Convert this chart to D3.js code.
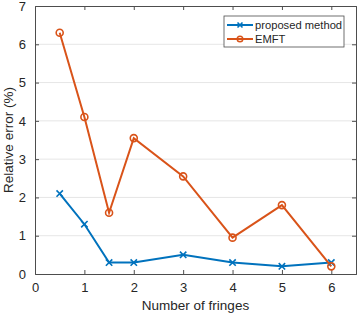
<!DOCTYPE html>
<html lang="en">
<head>
<meta charset="UTF-8" />
<title>fringes</title>
<style>
  body { margin: 0; background: #fff; }
  text { font-family: "Liberation Sans", Arial, sans-serif; fill: #262626; }
</style>
</head>
<body>
<svg width="358" height="315" id="mainsvg"></svg>
<script src="https://cdn.jsdelivr.net/npm/d3@7"></script>
<script>
const fringes = [0.5, 1, 1.5, 2, 3, 4, 5, 6]
const proposed = [2.1, 1.3, 0.3, 0.3, 0.5, 0.3, 0.2, 0.3]
const emft = [6.3, 4.1, 1.6, 3.55, 2.55, 0.95, 1.8, 0.2]
const xTicks = [0, 1, 2, 3, 4, 5, 6]
const yTicks = [0, 1, 2, 3, 4, 5, 6, 7]
const seriesNames = ["proposed method", "EMFT"]

const svg = d3.select("#mainsvg")
const margin = { left: 35, right: 2, top: 6, bottom: 41 }
const width = +svg.attr("width")
const height = +svg.attr("height")
const iw = width - margin.left - margin.right
const ih = height - margin.top - margin.bottom

const x = d3.scaleLinear().domain([0, 6.5]).range([margin.left, margin.left + iw])
const y = d3.scaleLinear().domain([0, 7]).range([margin.top + ih, margin.top])

// horizontal grid
svg.append("g")
  .selectAll("line")
  .data(yTicks.slice(1, -1))
  .join("line")
  .attr("x1", x(0)).attr("x2", x(6.5))
  .attr("y1", d => y(d)).attr("y2", d => y(d))
  .attr("stroke", "#e6e6e6").attr("stroke-width", 1)

// axes (ticks pointing inward)
const axisColor = "#262626"
const gBottom = svg.append("g").attr("transform", `translate(0,${y(0)})`)
  .call(d3.axisBottom(x).tickValues(xTicks).tickSize(-4).tickPadding(9).tickFormat(d3.format("d")))
const gTop = svg.append("g").attr("transform", `translate(0,${y(7)})`)
  .call(d3.axisTop(x).tickValues(xTicks).tickSize(-4).tickFormat(""))
const gLeft = svg.append("g").attr("transform", `translate(${x(0)},0)`)
  .call(d3.axisLeft(y).tickValues(yTicks).tickSize(-4).tickPadding(9).tickFormat(d3.format("d")))
const gRight = svg.append("g").attr("transform", `translate(${x(6.5)},0)`)
  .call(d3.axisRight(y).tickValues(yTicks).tickSize(-4).tickFormat(""))

;[gBottom, gTop, gLeft, gRight].forEach(g => {
  g.select(".domain").attr("stroke", "#4d4d4d")
  g.selectAll(".tick line").attr("stroke", "#4d4d4d")
  g.selectAll("text").attr("font-size", 13).attr("fill", axisColor)
    .attr("font-family", "Liberation Sans, Arial, sans-serif")
})
// remove tick marks at the edges overlapping the box
gBottom.selectAll(".tick").filter(d => d === 0).select("line").remove()
gTop.selectAll(".tick").filter(d => d === 0).select("line").remove()
gLeft.selectAll(".tick").filter(d => d === 0 || d === 7).select("line").remove()
gRight.selectAll(".tick").filter(d => d === 0 || d === 7).select("line").remove()

// axis labels
svg.append("text")
  .attr("x", x(3.25)).attr("y", 310)
  .attr("text-anchor", "middle").attr("font-size", 13.5)
  .text("Number of fringes")
svg.append("text")
  .attr("transform", `translate(13,${y(3.5)}) rotate(-90)`)
  .attr("text-anchor", "middle").attr("font-size", 13.5)
  .text("Relative error (%)")

const blue = "#0072BD"
const orange = "#D95319"
const line = d3.line().x(d => x(d[0])).y(d => y(d[1]))

const blueData = fringes.map((f, i) => [f, proposed[i]])
const orangeData = fringes.map((f, i) => [f, emft[i]])

svg.append("path").datum(blueData).attr("d", line)
  .attr("fill", "none").attr("stroke", blue).attr("stroke-width", 2)
svg.append("path").datum(orangeData).attr("d", line)
  .attr("fill", "none").attr("stroke", orange).attr("stroke-width", 2)

function cross(g, cx, cy, r, color) {
  g.append("path")
    .attr("d", `M${cx - r},${cy - r}L${cx + r},${cy + r}M${cx - r},${cy + r}L${cx + r},${cy - r}`)
    .attr("stroke", color).attr("stroke-width", 1.6).attr("fill", "none")
}

const marks = svg.append("g")
blueData.forEach(d => cross(marks, x(d[0]), y(d[1]), 3.2, blue))
marks.selectAll("circle")
  .data(orangeData)
  .join("circle")
  .attr("cx", d => x(d[0])).attr("cy", d => y(d[1]))
  .attr("r", 3.5)
  .attr("fill", "none").attr("stroke", orange).attr("stroke-width", 1.6)

// legend
const lg = svg.append("g").attr("transform", "translate(224,16)")
lg.append("rect").attr("width", 120).attr("height", 31)
  .attr("fill", "#fff").attr("stroke", "#4d4d4d").attr("stroke-width", 0.8)
const colors = [blue, orange]
seriesNames.forEach((name, i) => {
  const cy = 9 + i * 14
  lg.append("line").attr("x1", 3).attr("x2", 29).attr("y1", cy).attr("y2", cy)
    .attr("stroke", colors[i]).attr("stroke-width", 2)
  if (i === 0) cross(lg, 16, cy, 2.5, blue)
  else lg.append("circle").attr("cx", 16).attr("cy", cy).attr("r", 2.8)
    .attr("fill", "none").attr("stroke", orange).attr("stroke-width", 1.4)
  lg.append("text").attr("x", 31).attr("y", cy + 4)
    .attr("font-size", 11.2).text(name)
})
</script>
</body>
</html>
